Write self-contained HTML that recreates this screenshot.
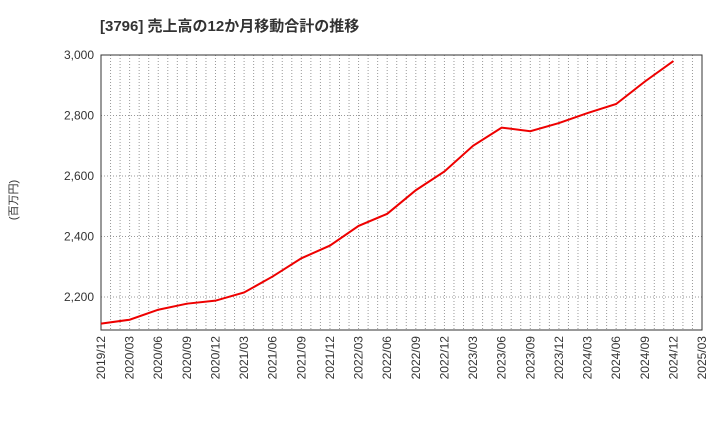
<!DOCTYPE html>
<html><head><meta charset="utf-8"><style>
body{margin:0;background:#fff;}
svg text{font-family:"Liberation Sans","Noto Sans CJK JP",sans-serif;}
</style></head><body>
<svg id="c" width="720" height="440" xmlns="http://www.w3.org/2000/svg">
<text x="100" y="31" font-size="15" font-weight="bold" fill="#333">[3796]  売上高の12か月移動合計の推移</text>
<text transform="translate(17,200) rotate(-90)" font-size="11" fill="#333" text-anchor="middle">(百万円)</text>
<g id="grid"></g><g id="axes"></g><g id="series"></g>
</svg>
<script>
const categories=["2019/12","2020/03","2020/06","2020/09","2020/12","2021/03","2021/06","2021/09","2021/12","2022/03","2022/06","2022/09","2022/12","2023/03","2023/06","2023/09","2023/12","2024/03","2024/06","2024/09","2024/12"];
const salesValues=[2112,2125,2158,2178,2188,2215,2268,2328,2370,2435,2475,2553,2615,2700,2760,2748,2775,2808,2838,2912,2980];
const xTickLabels=["2019/12","2020/03","2020/06","2020/09","2020/12","2021/03","2021/06","2021/09","2021/12","2022/03","2022/06","2022/09","2022/12","2023/03","2023/06","2023/09","2023/12","2024/03","2024/06","2024/09","2024/12","2025/03"];
const yTicks=[2200,2400,2600,2800,3000];
const L=101,R=702,T=55,B=330,yMin=2091,yMax=3000;
const NS="http://www.w3.org/2000/svg";
const x=i=>L+(R-L)*i/(xTickLabels.length-1);
const y=v=>B-(v-yMin)/(yMax-yMin)*(B-T);
function mk(tag,attrs,parent){const e=document.createElementNS(NS,tag);for(const k in attrs)e.setAttribute(k,attrs[k]);document.getElementById(parent).appendChild(e);return e;}
const months=(xTickLabels.length-1)*3;
for(let m=1;m<months;m++){const px=L+(R-L)*m/months;
const g=mk('line',{x1:px,x2:px,y1:T,y2:B,stroke:'#999','stroke-dasharray':'1,2','stroke-width':1},'grid');

}
yTicks.forEach(v=>{const g=mk('line',{x1:L,x2:R,y1:y(v),y2:y(v),stroke:'#999','stroke-dasharray':'1,2'},'grid');


const t=mk('text',{x:L-7,y:y(v)+4,'font-size':12,fill:'#333','text-anchor':'end'},'axes');t.textContent=v.toLocaleString('en-US');

});
xTickLabels.forEach((s,i)=>{const t=mk('text',{transform:`translate(${x(i)+4},${B+6}) rotate(-90)`,'font-size':12,fill:'#333','text-anchor':'end'},'axes');t.textContent=s;

});
const f=mk('rect',{x:L,y:T,width:R-L,height:B-T,fill:'none',stroke:'#333','stroke-width':1},'axes');


const p=mk('polyline',{points:salesValues.map((v,i)=>x(i)+','+y(v)).join(' '),fill:'none',stroke:'#e00','stroke-width':2},'series');


</script>
</body></html>
